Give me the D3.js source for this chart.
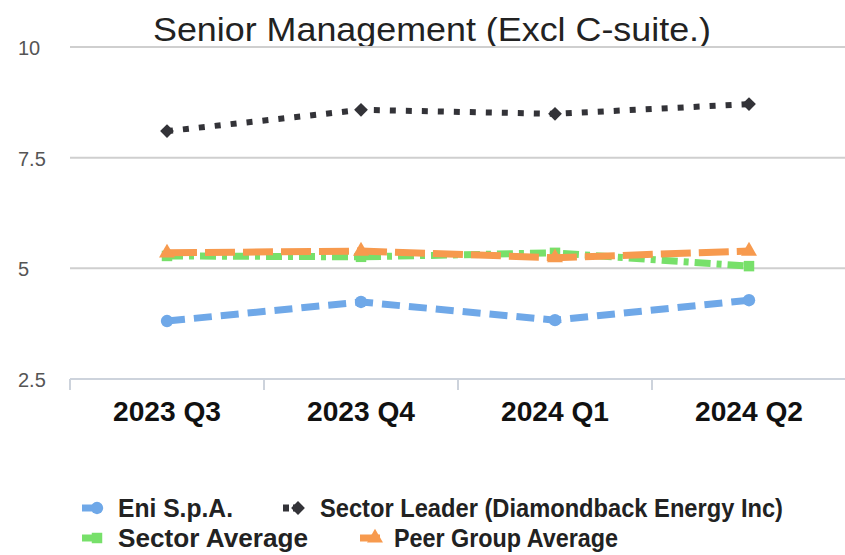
<!DOCTYPE html>
<html><head><meta charset="utf-8">
<script src="https://cdn.jsdelivr.net/npm/d3@7"></script>
<style>body{margin:0;background:#fff}svg{display:block}</style>
</head><body>
<svg id="chart" width="845" height="555"></svg>
<script>
const categories = ["2023 Q3", "2023 Q4", "2024 Q1", "2024 Q2"];
const yTicks = [2.5, 5, 7.5, 10];
const yTickLabels = ["2.5", "5", "7.5", "10"];
const eniValues = [3.81, 4.24, 3.83, 4.28];
const leaderValues = [8.10, 8.58, 8.49, 8.71];
const sectorAvgValues = [5.28, 5.26, 5.35, 5.05];
const peerAvgValues = [5.35, 5.39, 5.24, 5.39];
const seriesNames = ["Eni S.p.A.", "Sector Leader (Diamondback Energy Inc)", "Sector Average", "Peer Group Average"];
const title = "Senior Management (Excl C-suite.)";

const series = [
  {name: seriesNames[0], values: eniValues, color: "#6fa8e8", dash: "18,9", width: 7, sym: d3.symbolCircle, size: 120, rot: 0},
  {name: seriesNames[1], values: leaderValues, color: "#333338", dash: "6,10", width: 6, sym: d3.symbolSquare, size: 95, rot: 45},
  {name: seriesNames[2], values: sectorAvgValues, color: "#77e06a", dash: "16,6,5,6", width: 7, sym: d3.symbolSquare, size: 110, rot: 0},
  {name: seriesNames[3], values: peerAvgValues, color: "#f79a4e", dash: "30,8", width: 7, sym: d3.symbolTriangle, size: 110, rot: 0}
];

const svg = d3.select("#chart");
const x = d3.scaleBand().domain(categories).range([70, 846]);
const y = d3.scaleLinear().domain([2.5, 10]).range([379, 47]);
const cx = d => x(d) + x.bandwidth() / 2;
const FONT = "Liberation Sans, Arial, sans-serif";

// title
svg.append("text").attr("x", 432).attr("y", 41).attr("text-anchor", "middle")
  .attr("font-family", FONT).attr("font-size", 34)
  .attr("textLength", 558).attr("lengthAdjust", "spacingAndGlyphs")
  .attr("fill", "#222").text(title);

// gridlines
svg.append("g").selectAll("line").data(yTicks.filter(t => t > 2.5)).join("line")
  .attr("x1", 70).attr("x2", 845).attr("y1", d => y(d)).attr("y2", d => y(d))
  .attr("stroke", "#cfcfcf").attr("stroke-width", 2);

// y tick labels
svg.append("g").selectAll("text").data(yTicks).join("text")
  .attr("x", 18).attr("y", d => y(d) + 8)
  .attr("font-family", FONT).attr("font-size", 20)
  .attr("fill", "#555").text((d, i) => yTickLabels[i]);

// x axis
const xAxis = d3.axisBottom(x).tickSize(0).tickPadding(0);
const gx = svg.append("g").attr("transform", `translate(0,${y(2.5)})`).call(xAxis);
gx.select(".domain").remove();
gx.selectAll("text").remove();
gx.append("line").attr("x1", 70).attr("x2", 845).attr("stroke", "#cdd3dc").attr("stroke-width", 2);
gx.selectAll("line.sep").data(categories).join("line").attr("class", "sep")
  .attr("x1", d => x(d)).attr("x2", d => x(d)).attr("y1", 0).attr("y2", 11)
  .attr("stroke", "#cdd3dc").attr("stroke-width", 2);
gx.selectAll("text.cat").data(categories).join("text").attr("class", "cat")
  .attr("x", d => cx(d)).attr("y", 42).attr("text-anchor", "middle")
  .attr("font-family", FONT).attr("font-weight", "bold")
  .attr("font-size", 28).attr("textLength", 108).attr("lengthAdjust", "spacingAndGlyphs")
  .attr("fill", "#111").text(d => d);

// lines
const line = d3.line().x((d, i) => cx(categories[i])).y(d => y(d));
series.forEach(s => {
  svg.append("path").datum(s.values).attr("d", line).attr("fill", "none")
    .attr("stroke", s.color).attr("stroke-width", s.width).attr("stroke-dasharray", s.dash);
  svg.append("g").selectAll("path").data(s.values).join("path")
    .attr("transform", (d, i) => `translate(${cx(categories[i])},${y(d)}) rotate(${s.rot})`)
    .attr("d", d3.symbol().type(s.sym).size(s.size)).attr("fill", s.color);
});

// legend
const legendItems = [
  {s: series[0], mx: 97, ly: 508, tx: 118, tw: 115},
  {s: series[1], mx: 298, ly: 508, tx: 320, tw: 463},
  {s: series[2], mx: 97, ly: 538, tx: 118, tw: 190},
  {s: series[3], mx: 375, ly: 538, tx: 394, tw: 224}
];
const lg = svg.append("g");
legendItems.forEach(it => {
  lg.append("line").attr("x1", it.mx - 15).attr("x2", it.mx + 5).attr("y1", it.ly).attr("y2", it.ly)
    .attr("stroke", it.s.color).attr("stroke-width", 7)
    .attr("stroke-dasharray", it.s.rot ? "6,4" : null);
  lg.append("path").attr("transform", `translate(${it.mx},${it.ly}) rotate(${it.s.rot})`)
    .attr("d", d3.symbol().type(it.s.sym).size(it.s.size)).attr("fill", it.s.color);
  lg.append("text").attr("x", it.tx).attr("y", it.ly + 9)
    .attr("font-family", FONT).attr("font-weight", "bold")
    .attr("font-size", 25).attr("textLength", it.tw).attr("lengthAdjust", "spacingAndGlyphs")
    .attr("fill", "#222").text(it.s.name);
});
</script>
</body></html>
